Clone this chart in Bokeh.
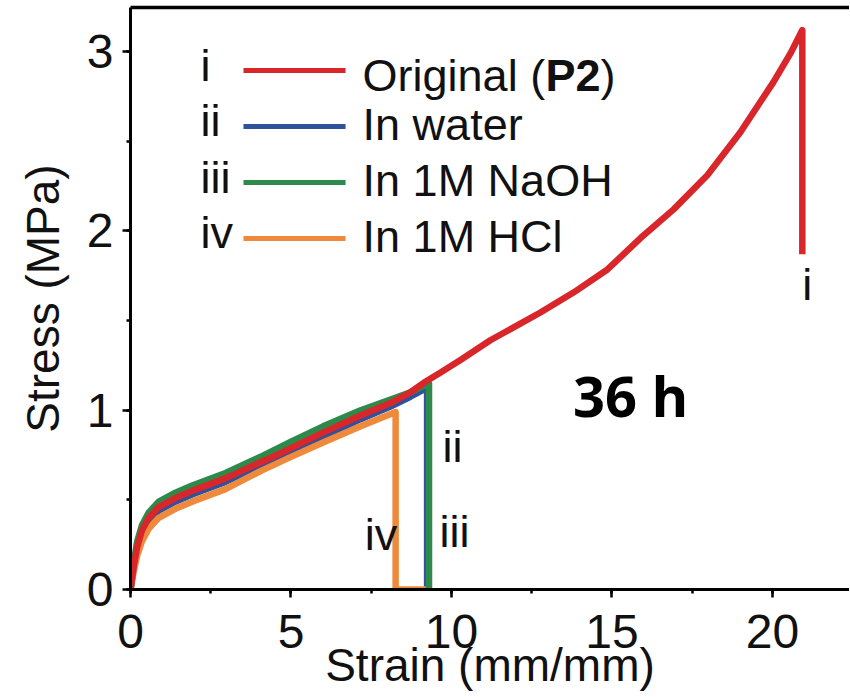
from bokeh.plotting import figure
from bokeh.models import Range1d, SingleIntervalTicker, LinearAxis, FixedTicker
from bokeh.core.properties import value
from bokeh.embed import file_html
from bokeh.resources import INLINE

# ---- data ----
red_x = [0, 0.10, 0.21, 0.36, 0.57, 0.88, 1.40, 1.92, 2.96, 4.05, 4.5, 6.0, 7.17, 8.1, 8.72, 9.2, 9.66, 10.28,
         11.21, 12.77, 13.8, 14.86, 15.89, 16.92, 17.97, 19.0, 20.03, 20.56, 20.93, 20.93]
red_y = [0, 0.13, 0.24, 0.33, 0.40, 0.46, 0.51, 0.55, 0.62, 0.71, 0.745, 0.875, 0.97, 1.04, 1.10, 1.16, 1.21, 1.28,
         1.39, 1.545, 1.656, 1.785, 1.96, 2.12, 2.31, 2.55, 2.83, 2.99, 3.12, 1.87]

blue_x = [0, 0.10, 0.21, 0.36, 0.57, 0.88, 1.40, 1.92, 2.96, 4.05, 5.0, 6.0, 7.17, 8.1, 8.72, 9.13, 9.24, 9.24]
blue_y = [0, 0.12, 0.22, 0.31, 0.38, 0.44, 0.49, 0.53, 0.60, 0.69, 0.77, 0.85, 0.95, 1.02, 1.075, 1.115, 1.12, 0]

green_x = [0, 0.10, 0.21, 0.36, 0.57, 0.88, 1.40, 1.92, 2.96, 4.05, 5.0, 6.0, 7.17, 8.1, 8.72, 9.3, 9.3]
green_y = [0, 0.15, 0.27, 0.36, 0.43, 0.49, 0.54, 0.58, 0.65, 0.74, 0.825, 0.91, 1.00, 1.06, 1.10, 1.15, 0]

orange_x = [0, 0.10, 0.21, 0.36, 0.57, 0.88, 1.40, 1.92, 2.96, 4.05, 5.0, 6.0, 7.17, 8.26, 8.26, 9.3]
orange_y = [0, 0.10, 0.19, 0.27, 0.34, 0.40, 0.45, 0.49, 0.56, 0.66, 0.74, 0.82, 0.91, 0.99, 0, 0]

numerals = ["i", "ii", "iii", "iv"]
legend_names = ["Original (", "In water", "In 1M NaOH", "In 1M HCl"]
colors = ["#d8262b", "#30519c", "#2e8a4a", "#ef8a3c"]

x_tick_interval = 5
y_tick_interval = 1
x_title = "Strain (mm/mm)"
y_title = "Stress (MPa)"
panel_note = "36 h"

# ---- figure ----
X_END = 22.4
Y_END = 3.246
p = figure(width=849, height=696, output_backend="svg", toolbar_location=None,
           x_range=Range1d(0, X_END), y_range=Range1d(0, Y_END),
           min_border_left=130, min_border_right=0, min_border_top=7, min_border_bottom=107)
p.outline_line_color = None
p.grid.visible = False
p.background_fill_color = "white"

xax = p.below[0]
yax = p.left[0]

FONT = "Liberation Sans"
INK = "#111111"
for ax in (xax, yax):
    ax.axis_line_width = 3
    ax.major_tick_line_width = 2.5
    ax.minor_tick_line_width = 2.5
    ax.major_tick_out = 8
    ax.major_tick_in = 0
    ax.minor_tick_out = 4
    ax.minor_tick_in = 0
    ax.major_label_text_font = FONT
    ax.major_label_text_font_size = "48px"
    ax.major_label_text_color = INK
    ax.major_label_text_line_height = 1.0
    ax.axis_label_text_font = FONT
    ax.axis_label_text_font_size = "46px"
    ax.axis_label_text_font_style = "normal"
    ax.axis_label_text_color = INK
    ax.axis_label_text_line_height = 1.0

xax.ticker = SingleIntervalTicker(interval=x_tick_interval, num_minor_ticks=2)
yax.ticker = SingleIntervalTicker(interval=y_tick_interval, num_minor_ticks=2)
xax.axis_label = x_title
yax.axis_label = y_title
xax.major_label_standoff = 17
xax.axis_label_standoff = -12
yax.major_label_standoff = 9
yax.axis_label_standoff = 15

# top frame line: an empty axis above the frame (added after styling the real axes)
top_axis = LinearAxis(ticker=FixedTicker(ticks=[0]), major_label_overrides={0: ""},
                      axis_line_width=3.5, axis_line_color="black",
                      major_tick_out=0, major_tick_in=0, minor_tick_out=0, minor_tick_in=0,
                      major_tick_line_color=None, minor_tick_line_color=None,
                      major_label_standoff=0, major_label_text_font_size="1px")
p.add_layout(top_axis, "above")

# ---- curves ----
lw = 6.5
p.line(blue_x, blue_y, line_color=colors[1], line_width=lw, line_join="round")
p.line(orange_x, orange_y, line_color=colors[3], line_width=lw, line_join="round")
p.line(green_x, green_y, line_color=colors[2], line_width=lw, line_join="round")
p.line(red_x, red_y, line_color=colors[0], line_width=lw, line_join="round")

# ---- legend (drawn by hand) ----
leg_line_y = [2.895, 2.582, 2.270, 1.958]
leg_text_y = [2.867, 2.593, 2.281, 1.969]
leg_num_y = [2.922, 2.616, 2.298, 1.991]
p.segment(x0=[3.52] * 4, y0=leg_line_y, x1=[6.70] * 4, y1=leg_line_y,
          line_color=colors, line_width=5)
p.text(x=[2.18] * 4, y=leg_num_y, text=numerals, text_font=value(FONT),
       text_font_size="45px", text_baseline="middle", text_color=INK)
p.text(x=[7.23] * 4, y=leg_text_y, text=legend_names, text_font=value(FONT),
       text_font_size="45px", text_baseline="middle", text_color=INK)
p.text(x=[7.23], y=[leg_text_y[0]], text=["P2"], x_offset=183, text_font=value(FONT),
       text_font_size="45px", text_font_style="bold", text_baseline="middle", text_color=INK)
p.text(x=[7.23], y=[leg_text_y[0]], text=[")"], x_offset=238, text_font=value(FONT),
       text_font_size="45px", text_baseline="middle", text_color=INK)

# ---- curve labels ----
p.text(x=[20.93, 9.72, 9.63, 7.3], y=[1.701, 0.798, 0.323, 0.307], text=numerals,
       text_font=value(FONT), text_font_size="45px", text_baseline="middle", text_color=INK)

p.text(x=[15.58], y=[1.085], text=[panel_note], text_font=value("Open Sans"), text_font_size="56px",
       text_font_style="bold", text_align="center", text_baseline="middle", text_color="black")

open("out.html", "w").write(file_html(p, INLINE))
